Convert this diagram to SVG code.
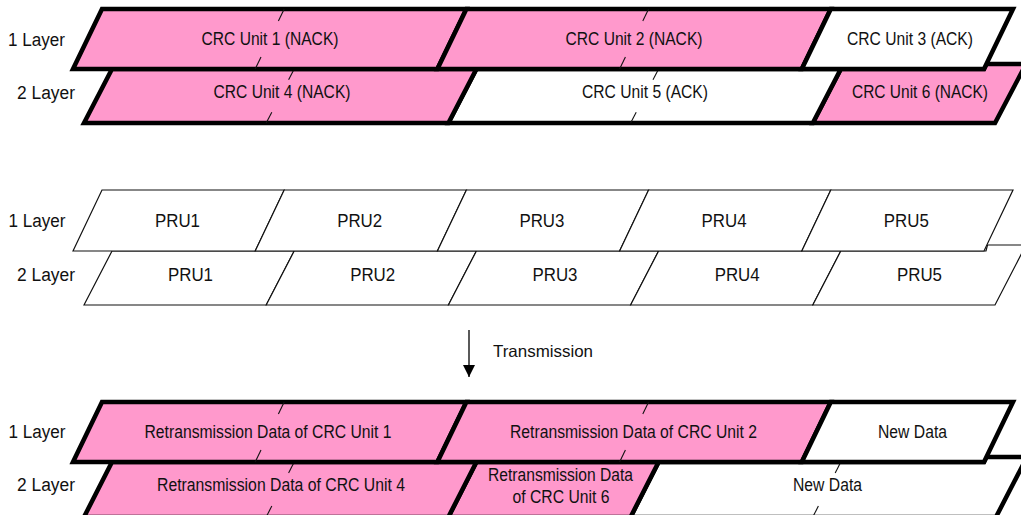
<svg xmlns="http://www.w3.org/2000/svg" width="1021" height="515" viewBox="0 0 1021 515">
<defs>
<style>
.bold{stroke:#000;stroke-width:4.5;stroke-linejoin:miter;stroke-miterlimit:10}
.thin{fill:#fff;stroke:#111;stroke-width:1.2;stroke-linejoin:miter}
.pink{fill:#ff99cc}
.white{fill:#fff}
.dash{stroke:#111;stroke-width:1.1;fill:none}
text{font-family:"Liberation Sans",Arial,sans-serif;fill:#111;text-anchor:middle}
.t{font-size:17.5px}
.lay{font-size:18px}
.pru{font-size:18px}
</style>
<marker id="ah" markerWidth="12" markerHeight="12" refX="12" refY="6" orient="auto" markerUnits="userSpaceOnUse" viewBox="0 0 12 12">
<path d="M0,0 L12,6 L0,12 Z" fill="#000"/>
</marker>
</defs>
<rect width="1021" height="515" fill="#fff"/>

<!-- Layer labels -->
<g id="labels">
<text class="lay" x="36.5" y="46" textLength="57" lengthAdjust="spacingAndGlyphs">1 Layer</text>
<text class="lay" x="46" y="98.5" textLength="58" lengthAdjust="spacingAndGlyphs">2 Layer</text>
<text class="lay" x="37" y="227" textLength="57" lengthAdjust="spacingAndGlyphs">1 Layer</text>
<text class="lay" x="46" y="281" textLength="58" lengthAdjust="spacingAndGlyphs">2 Layer</text>
<text class="lay" x="37" y="438" textLength="57" lengthAdjust="spacingAndGlyphs">1 Layer</text>
<text class="lay" x="46" y="491" textLength="58" lengthAdjust="spacingAndGlyphs">2 Layer</text>
</g>

<!-- Top section: CRC units -->
<g id="crc6">
<polygon class="bold pink" points="812.8,123 840.8,69 984,69 986.5,64 1026,64 995,123"/>
<text class="t" x="920" y="98" textLength="136" lengthAdjust="spacingAndGlyphs">CRC Unit 6 (NACK)</text>
</g>
<g id="crc5">
<polygon class="bold white" points="448.4,123 476.4,69 840.8,69 812.8,123"/>
<text class="t" x="645" y="98" textLength="126" lengthAdjust="spacingAndGlyphs">CRC Unit 5 (ACK)</text>
<line class="dash" x1="658.6" y1="69" x2="653" y2="79.8"/><line class="dash" x1="636.2" y1="112.2" x2="630.6" y2="123"/>
</g>
<g id="crc4">
<polygon class="bold pink" points="84,123 112,69 476.4,69 448.4,123"/>
<text class="t" x="282" y="98" textLength="137" lengthAdjust="spacingAndGlyphs">CRC Unit 4 (NACK)</text>
<line class="dash" x1="294.2" y1="69" x2="288.6" y2="79.8"/><line class="dash" x1="271.8" y1="112.2" x2="266.2" y2="123"/>
</g>
<g id="crc1">
<polygon class="bold pink" points="73,69 102,9 466.4,9 437.4,69"/>
<text class="t" x="270" y="45" textLength="137" lengthAdjust="spacingAndGlyphs">CRC Unit 1 (NACK)</text>
<line class="dash" x1="284.2" y1="9" x2="278.4" y2="21"/><line class="dash" x1="261" y1="57" x2="255.2" y2="69"/>
</g>
<g id="crc2">
<polygon class="bold pink" points="437.4,69 466.4,9 830.8,9 801.8,69"/>
<text class="t" x="634" y="45" textLength="137" lengthAdjust="spacingAndGlyphs">CRC Unit 2 (NACK)</text>
<line class="dash" x1="648.6" y1="9" x2="642.8" y2="21"/><line class="dash" x1="625.4" y1="57" x2="619.6" y2="69"/>
</g>
<g id="crc3">
<polygon class="bold white" points="801.8,69 830.8,9 1013,9 984,69"/>
<text class="t" x="910" y="45" textLength="126" lengthAdjust="spacingAndGlyphs">CRC Unit 3 (ACK)</text>
</g>

<!-- Middle section: PRUs -->
<g id="pru-l2">
<polygon class="thin" points="84,305 112,251 294.2,251 266.2,305"/>
<polygon class="thin" points="266.2,305 294.2,251 476.4,251 448.4,305"/>
<polygon class="thin" points="448.4,305 476.4,251 658.6,251 630.6,305"/>
<polygon class="thin" points="630.6,305 658.6,251 840.8,251 812.8,305"/>
<polygon class="thin" points="812.8,305 840.8,251 986,251 987.5,245 1026,245 995,305"/>
<text class="pru" x="190.5" y="281" textLength="45" lengthAdjust="spacingAndGlyphs">PRU1</text>
<text class="pru" x="372.7" y="281" textLength="45" lengthAdjust="spacingAndGlyphs">PRU2</text>
<text class="pru" x="555" y="281" textLength="45" lengthAdjust="spacingAndGlyphs">PRU3</text>
<text class="pru" x="737.2" y="281" textLength="45" lengthAdjust="spacingAndGlyphs">PRU4</text>
<text class="pru" x="919.5" y="281" textLength="45" lengthAdjust="spacingAndGlyphs">PRU5</text>
</g>
<g id="pru-l1">
<polygon class="thin" points="73,251 102,190 284.2,190 255.2,251"/>
<polygon class="thin" points="255.2,251 284.2,190 466.4,190 437.4,251"/>
<polygon class="thin" points="437.4,251 466.4,190 648.6,190 619.6,251"/>
<polygon class="thin" points="619.6,251 648.6,190 830.8,190 801.8,251"/>
<polygon class="thin" points="801.8,251 830.8,190 1013,190 984,251"/>
<text class="pru" x="177.5" y="227" textLength="45" lengthAdjust="spacingAndGlyphs">PRU1</text>
<text class="pru" x="359.7" y="227" textLength="45" lengthAdjust="spacingAndGlyphs">PRU2</text>
<text class="pru" x="541.9" y="227" textLength="45" lengthAdjust="spacingAndGlyphs">PRU3</text>
<text class="pru" x="724.1" y="227" textLength="45" lengthAdjust="spacingAndGlyphs">PRU4</text>
<text class="pru" x="906.3" y="227" textLength="45" lengthAdjust="spacingAndGlyphs">PRU5</text>
</g>

<!-- Connector -->
<g id="connectors">
<line x1="469" y1="330" x2="469" y2="377" stroke="#000" stroke-width="1.3" marker-end="url(#ah)"/>
<text x="493" y="357" font-size="16.5" style="text-anchor:start" textLength="100" lengthAdjust="spacingAndGlyphs">Transmission</text>
</g>

<!-- Bottom section -->
<g id="newdata2">
<polygon class="bold white" points="630.6,517 658.6,462 984,462 986.5,457 1027,457 996,517"/>
<text class="t" x="827.5" y="491" textLength="69" lengthAdjust="spacingAndGlyphs">New Data</text>
<line class="dash" x1="840.8" y1="462" x2="835.2" y2="473"/><line class="dash" x1="818.4" y1="506" x2="812.8" y2="517"/>
</g>
<g id="retx6">
<polygon class="bold pink" points="448.4,517 476.4,462 658.6,462 630.6,517"/>
<text class="t" x="560.5" y="481" textLength="145" lengthAdjust="spacingAndGlyphs">Retransmission Data</text>
<text class="t" x="561" y="503" textLength="97" lengthAdjust="spacingAndGlyphs">of CRC Unit 6</text>
</g>
<g id="retx4">
<polygon class="bold pink" points="84,517 112,462 476.4,462 448.4,517"/>
<text class="t" x="281" y="491" textLength="248" lengthAdjust="spacingAndGlyphs">Retransmission Data of CRC Unit 4</text>
<line class="dash" x1="294.2" y1="462" x2="288.6" y2="473"/><line class="dash" x1="271.8" y1="506" x2="266.2" y2="517"/>
</g>
<g id="retx1">
<polygon class="bold pink" points="73,462 102,402 466.4,402 437.4,462"/>
<text class="t" x="268" y="438" textLength="247" lengthAdjust="spacingAndGlyphs">Retransmission Data of CRC Unit 1</text>
<line class="dash" x1="284.2" y1="402" x2="278.4" y2="414"/><line class="dash" x1="261" y1="450" x2="255.2" y2="462"/>
</g>
<g id="retx2">
<polygon class="bold pink" points="437.4,462 466.4,402 830.8,402 801.8,462"/>
<text class="t" x="633.5" y="438" textLength="247" lengthAdjust="spacingAndGlyphs">Retransmission Data of CRC Unit 2</text>
<line class="dash" x1="648.6" y1="402" x2="642.8" y2="414"/><line class="dash" x1="625.4" y1="450" x2="619.6" y2="462"/>
</g>
<g id="newdata1">
<polygon class="bold white" points="801.8,462 830.8,402 1013,402 984,462"/>
<text class="t" x="912.5" y="438" textLength="69" lengthAdjust="spacingAndGlyphs">New Data</text>
</g>
</svg>
